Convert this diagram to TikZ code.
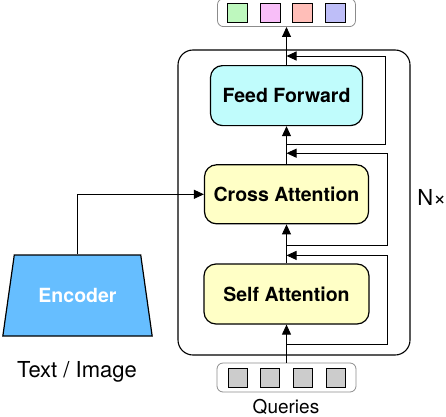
\documentclass[tikz,border=0pt]{standalone}
\usepackage{fontspec}
\setmainfont{TeX Gyre Heros}
\usetikzlibrary{positioning,shapes.geometric,arrows.meta}
\definecolor{encblue}{HTML}{66BEFF}
\definecolor{ffcyan}{HTML}{C0FCFC}
\definecolor{attnyellow}{HTML}{FFFFC6}
\definecolor{tokgreen}{HTML}{BEF8BE}
\definecolor{tokpink}{HTML}{F8BEF8}
\definecolor{tokred}{HTML}{FFBEB8}
\definecolor{tokblue}{HTML}{BEBEF8}
\definecolor{tokgray}{HTML}{CCCCCC}
\definecolor{framegray}{HTML}{8C8C8C}

\begin{document}
\begin{tikzpicture}[x=1pt,y=1pt,>={Triangle[length=10pt,width=9pt]},line width=0.9pt]
	\tikzstyle{layer}=[draw,rounded corners=12pt,line width=1.2pt,font=\fontsize{19.5}{22}\selectfont\bfseries,inner sep=0pt]
	\tikzstyle{tokenrow}=[draw=framegray,rounded corners=6pt,line width=0.8pt,minimum width=139pt,minimum height=29pt,inner sep=0pt]
	\tikzstyle{token}=[draw,line width=0.9pt,minimum width=19pt,minimum height=19pt,inner sep=0pt]
	\tikzstyle{plaintext}=[inner sep=0pt,font=\fontsize{22}{25}\selectfont]

	\useasboundingbox (0,0) rectangle (446,416);

	\node[draw,rounded corners=15pt,line width=1.1pt,minimum width=232pt,minimum height=305pt](block) at (294,213.5){};

	\node[layer,fill=attnyellow,minimum width=165pt,minimum height=60pt](self_attn) at (286.5,122){Self Attention};
	\node[layer,fill=attnyellow,minimum width=164pt,minimum height=59pt,above=39pt of self_attn](cross_attn){Cross Attention};
	\node[layer,fill=ffcyan,minimum width=152pt,minimum height=60pt,above=38pt of cross_attn](feed_forward){Feed Forward};

	\node[tokenrow,minimum width=138pt,minimum height=28pt,above=38pt of feed_forward](outputs){};
	\foreach \c [count=\i] in {tokgreen,tokpink,tokred,tokblue}
		\node[token,fill=\c,minimum height=19pt,minimum width=20pt](out\i) at ([xshift={(\i-2.5)*32.7pt}]outputs.center){};

	\node[tokenrow,below=38pt of self_attn](queries){};
	\foreach \i in {1,...,4}
		\node[token,fill=tokgray](query\i) at ([xshift={(\i-2.5)*32.7pt}]queries.center){};
	\node[plaintext,font=\fontsize{19}{22}\selectfont](queries_label) at (286,9.5){Queries};

	\node[trapezium,trapezium left angle=70,trapezium right angle=70,trapezium stretches=true,minimum width=151pt,minimum height=81pt,draw,line width=1.2pt,fill=encblue,text=white,font=\fontsize{19.5}{22}\selectfont\bfseries](encoder) at (77.5,120.5){Encoder};
	\node[plaintext](input_label) at (77,44){Text / Image};

	\node[plaintext,anchor=west](repeat_label) at (417,219){N×};

	\draw[->](encoder.north) |- (cross_attn.west);

	\draw[->](queries.north) -- (self_attn.south);
	\draw[->](self_attn.north) -- (cross_attn.south);
	\draw[->](cross_attn.north) -- (feed_forward.south);
	\draw[->](feed_forward.north) -- (outputs.south);

	% residual connections
	\coordinate(sa_in) at ([yshift=-20pt]self_attn.south);
	\coordinate(sa_out) at ([yshift=8pt]self_attn.north);
	\coordinate(ca_in) at ([yshift=-21pt]cross_attn.south);
	\coordinate(ca_out) at ([yshift=11pt]cross_attn.north);
	\coordinate(ff_in) at ([yshift=-18pt]feed_forward.south);
	\coordinate(ff_out) at ([yshift=9pt]feed_forward.north);

	\draw[->](sa_in) -- ++(100.5,0) |- (sa_out);
	\draw[->](ca_in) -- ++(100.5,0) |- (ca_out);
	\draw[->](ff_in) -- ++(98.5,0) |- (ff_out);
\end{tikzpicture}
\end{document}
